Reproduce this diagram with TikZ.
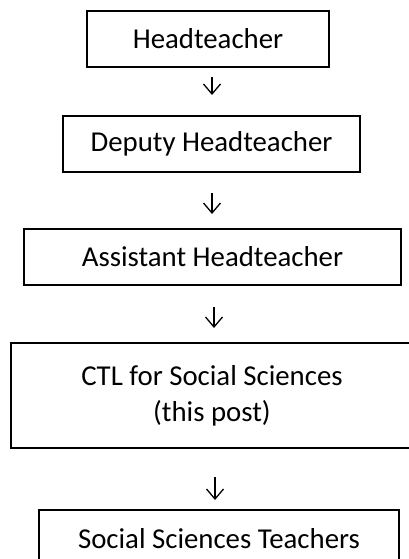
\documentclass[tikz,border=0pt]{standalone}
\usepackage{fontspec}
\setmainfont{Carlito}
\usetikzlibrary{arrows.meta}
\begin{document}
\begin{tikzpicture}[x=1pt,y=-1pt,
  box/.style={draw=black,line width=2pt,rectangle,inner sep=0pt,align=center,
    font=\fontsize{28.8}{36}\selectfont},
  arr/.style={line width=1.3pt,-{Straight Barb[length=10pt,width=17pt,line width=1.3pt]}}]
\useasboundingbox (0,0) rectangle (409,559);
\clip (0,0) rectangle (409,559);
\node[box,minimum width=242pt,minimum height=56pt] (b1) at (208,39) {Headteacher};
\node[box,minimum width=297pt,minimum height=56pt] (b2) at (211.5,144) {Deputy Headteacher};
\node[box,minimum width=377pt,minimum height=56pt] (b3) at (212.5,257) {Assistant Headteacher};
\node[box,minimum width=402pt,minimum height=105pt] (b4) at (212,395.5) {CTL for Social Sciences\\(this post)};
\node[box,minimum width=360pt,minimum height=58pt] (b5) at (219,539) {Social Sciences Teachers};
\coordinate (a1s) at (212,77);  \coordinate (a1e) at (212,95);
\coordinate (a2s) at (212,193); \coordinate (a2e) at (212,214);
\coordinate (a3s) at (214,307); \coordinate (a3e) at (214,328);
\coordinate (a4s) at (215,477); \coordinate (a4e) at (215,500);
\draw[arr] (a1s) -- (a1e);
\draw[arr] (a2s) -- (a2e);
\draw[arr] (a3s) -- (a3e);
\draw[arr] (a4s) -- (a4e);
\end{tikzpicture}
\end{document}
